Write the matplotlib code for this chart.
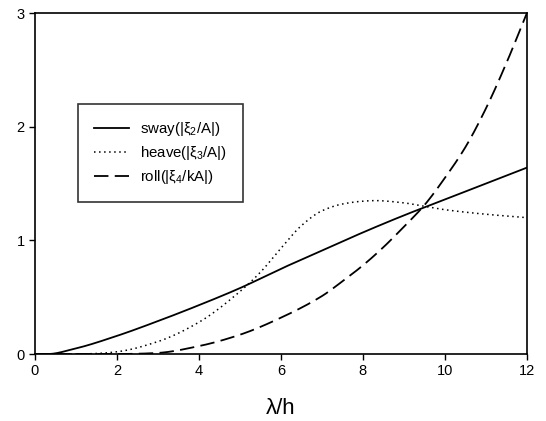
import numpy as np
import matplotlib
matplotlib.use("Agg")
import matplotlib.pyplot as plt

plt.rcParams['font.family'] = ['Liberation Sans', 'DejaVu Sans']
plt.rcParams['mathtext.fontset'] = 'custom'
plt.rcParams['mathtext.rm'] = 'Liberation Sans'
plt.rcParams['mathtext.it'] = 'Liberation Sans'

# values
sway_x = [0, 0.3, 1, 2, 3, 4, 5, 6, 7, 8, 9, 10, 11, 12]
sway_y = [0, 0.0, 0.05, 0.16, 0.29, 0.43, 0.58, 0.75, 0.91, 1.07, 1.22, 1.36, 1.50, 1.64]

heave_x = [0, 1, 1.5, 2, 3, 4, 5, 5.5, 6, 6.5, 7, 7.5, 8, 8.3, 9, 9.5, 10, 11, 12]
heave_y = [0, 0, 0.005, 0.02, 0.11, 0.28, 0.55, 0.72, 0.93, 1.13, 1.26, 1.32, 1.345, 1.35, 1.33, 1.30, 1.27, 1.23, 1.20]

roll_x = [0, 2, 2.5, 3, 4, 5, 6, 7, 7.5, 8, 8.5, 9, 9.5, 10, 10.5, 11, 11.5, 12]
roll_y = [0, 0, 0.003, 0.01, 0.07, 0.17, 0.32, 0.51, 0.64, 0.78, 0.94, 1.12, 1.31, 1.55, 1.82, 2.16, 2.56, 3.0]

labels = [r'sway(|$\xi_2$/A|)', r'heave(|$\xi_3$/A|)', r'roll(|$\xi_4$/kA|)']


def smooth(x, y):
    # monotone cubic (pchip) through the read-off points
    xs = np.linspace(x[0], x[-1], 400)
    x = np.asarray(x, float)
    y = np.asarray(y, float)
    h = np.diff(x)
    d = np.diff(y) / h
    m = np.zeros_like(y)
    for i in range(1, len(y) - 1):
        if d[i - 1] * d[i] > 0:
            w1 = 2 * h[i] + h[i - 1]
            w2 = h[i] + 2 * h[i - 1]
            m[i] = (w1 + w2) / (w1 / d[i - 1] + w2 / d[i])
    m[0] = d[0]
    m[-1] = d[-1]
    idx = np.clip(np.searchsorted(x, xs) - 1, 0, len(x) - 2)
    t = (xs - x[idx]) / h[idx]
    h00 = 2 * t**3 - 3 * t**2 + 1
    h10 = t**3 - 2 * t**2 + t
    h01 = -2 * t**3 + 3 * t**2
    h11 = t**3 - t**2
    ys = h00 * y[idx] + h10 * h[idx] * m[idx] + h01 * y[idx + 1] + h11 * h[idx] * m[idx + 1]
    return xs, ys


fig = plt.figure(figsize=(5.46, 4.21), dpi=100)
ax = fig.add_axes([0.064, 0.159, 0.901, 0.81])

ax.plot(*smooth(sway_x, sway_y), color='black', lw=1.3, label=labels[0])
ax.plot(*smooth(heave_x, heave_y), color='black', lw=1.1, ls=(0, (1, 2.3)), label=labels[1])
ax.plot(*smooth(roll_x, roll_y), color='black', lw=1.3, ls=(0, (8, 3.5)), label=labels[2])

ax.set_xlim(0, 12)
ax.set_ylim(0, 3)
ax.set_xticks([0, 2, 4, 6, 8, 10, 12])
ax.set_yticks([0, 1, 2, 3])
ax.tick_params(direction='out', length=4, width=1, labelsize=10.5)
for s in ax.spines.values():
    s.set_linewidth(1.2)
ax.set_xlabel(u'\u03bb/h', fontsize=16, labelpad=14)

leg = ax.legend(loc='upper left', bbox_to_anchor=(0.0874, 0.733), borderaxespad=0,
                fontsize=10.8, frameon=True, fancybox=False, edgecolor='black',
                handlelength=2.35, handletextpad=0.75, borderpad=1.05, labelspacing=0.4)
leg.get_frame().set_linewidth(1.2)

fig.savefig('out.png', dpi=100)
